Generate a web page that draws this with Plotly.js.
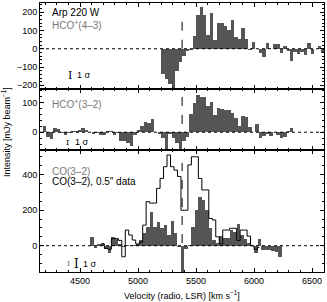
<!DOCTYPE html>
<html><head><meta charset="utf-8">
<script src="https://cdn.plot.ly/plotly-3.0.1.min.js"></script>
<style>html,body{margin:0;padding:0;background:#fff}</style>
</head><body><div id="chart" style="width:327px;height:302px"></div>
<script>
// ---- Data (channel centre velocities in km/s, intensities in mJy/beam) ----
const chanWidth = 30;
const vSys = 5380;

const hco43Vel = [5215,5245,5275,5305,5335,5365,5395,5425,5455,5485,5515,5545,5575,5605,5635,5665,5695,5725,5755,5785,5815,5845,5875,5905,5935,5965,5995,6025,6055,6085,6115,6145,6175,6205,6235,6265,6295,6325,6355,6385,6415,6445,6475,6505,6535,6565,6595];
const hco43Int = [-140,-165,-190,-215,-120,-75,-40,-15,-8,69,184,229,184,75,193,47,138,138,124,105,156,62,51,111,51,-7,38,0,-25,-47,29,0,24,24,-25,15,-11,-65,-16,-29,-16,-35,33,-29,-4,15,-25];

const hco32Vel = [4195,4225,4255,4285,4315,4345,4375,4405,4435,4465,4495,4525,4555,4585,4615,4645,4675,4705,4735,4765,4795,4825,4855,4885,4915,4945,4975,5005,5035,5065,5095,5125,5155,5185,5215,5245,5275,5305,5335,5365,5395,5425,5455,5485,5515,5545,5575,5605,5635,5665,5695,5725,5755,5785,5815,5845,5875,5905,5935,5965,5995,6025,6055,6085,6115,6145,6175,6205,6235,6265,6295,6325];
const hco32Int = [21,-15,-22,13,10,-3,-8,-3,4,3,8,14,6,2,-5,-3,-10,-10,5,5,-10,-3,-30,-30,-35,-45,-10,8,20,34,30,45,0,-5,-20,-57,-5,-20,-35,-57,-30,-15,62,98,126,118,118,87,103,58,81,78,75,75,64,49,21,55,53,19,0,27,-20,-12,-5,-12,0,-9,-20,-15,5,13];

const co32Vel = [4605,4635,4665,4695,4725,4755,4785,4815,4845,4875,4905,4935,4965,4995,5025,5055,5085,5115,5145,5175,5205,5235,5265,5295,5325,5355,5385,5415,5445,5475,5505,5535,5565,5595,5625,5655,5685,5715,5745,5775,5805,5835,5865,5895,5925,5955,5985,6015,6045,6075,6105,6135,6165,6195,6225];
const co32Int = [47,-15,10,17,-20,-43,47,36,10,-5,5,0,5,10,32,70,107,191,107,135,98,116,60,141,70,-10,-150,-19,5,107,201,276,257,201,98,32,15,54,45,41,88,80,122,60,40,15,0,-43,36,-24,-24,-26,-28,-34,-66];

const co05Vel = [4695,4725,4755,4785,4815,4845,4875,4905,4935,4965,4995,5025,5055,5085,5115,5145,5175,5205,5235,5265,5295,5325,5355,5385,5415,5445,5475,5505,5535,5565,5595,5625,5655,5685,5715,5745,5775,5805,5835,5865,5895,5925,5955,5985,6015,6045];
const co05Int = [10,-15,-20,40,40,30,-62,88,60,32,10,20,116,248,240,240,323,379,445,511,445,426,390,200,200,455,501,501,379,314,314,154,145,50,10,88,88,98,98,30,88,88,54,0,-20,-10];

const xTickVals = [4500,5000,5500,6000,6500];
const panelLabels = ["HCO<sup>+</sup>(4\u20133)", "HCO<sup>+</sup>(3\u20132)", "CO(3\u20132)", "CO(3\u20132), 0.5\u2033 data"];

// ---- Styling ----
const FONT = "Liberation Sans, Arial, sans-serif";
const SERIF = "DejaVu Serif, Liberation Serif, serif";
const barColor = "#555555";
const labelGray = "#777777";
const xRange = [4155, 6603];

const traces = [
  {type:"bar", x:hco43Vel, y:hco43Int, width:chanWidth, marker:{color:barColor, line:{width:0}}, xaxis:"x", yaxis:"y", hoverinfo:"skip"},
  {type:"bar", x:hco32Vel, y:hco32Int, width:chanWidth, marker:{color:barColor, line:{width:0}}, xaxis:"x2", yaxis:"y2", hoverinfo:"skip"},
  {type:"bar", x:co32Vel, y:co32Int, width:chanWidth, marker:{color:barColor, line:{width:0}}, xaxis:"x3", yaxis:"y3", hoverinfo:"skip"},
  {type:"scatter", mode:"lines", x:co05Vel, y:co05Int, line:{shape:"hvh", color:"#000", width:1}, xaxis:"x3", yaxis:"y3", hoverinfo:"skip"}
];

function xa(anchor, showLabels){
  const a = {range:xRange, anchor:anchor, showline:true, linecolor:"#000", linewidth:1, mirror:"allticks",
    ticks:"inside", ticklen:4, tickcolor:"#000", tickvals:xTickVals, showticklabels:showLabels,
    minor:{dtick:100, ticks:"inside", ticklen:2, tickcolor:"#000"},
    showgrid:false, zeroline:false, tickfont:{family:FONT,size:9,color:"#000"}};
  if (anchor !== "y3") a.matches = "x3";
  return a;
}
function ya(anchor, domain, range, dtick, minor){
  return {domain:domain, range:range, anchor:anchor, showline:true, linecolor:"#000", linewidth:1, mirror:"allticks",
    ticks:"inside", ticklen:4, tickcolor:"#000", dtick:dtick, tick0:0,
    minor:{dtick:minor, ticks:"inside", ticklen:2, tickcolor:"#000"},
    showgrid:false, zeroline:false, tickfont:{family:FONT,size:9,color:"#000"}};
}

const d3 = [0, 0.4535], d2 = [0.4535, 0.6803], d1 = [0.6803, 1];

const shapes = [];
[["y",[0,190]],["y2",[28,119]],["y3",[15,466]]].forEach(([yr,ext])=>{
  shapes.push({type:"line", xref:"paper", yref:yr, x0:0, x1:1, y0:0, y1:0, line:{color:"#000", width:1, dash:"dot"}});
  shapes.push({type:"line", xref:"x", yref:yr, x0:vSys, x1:vSys, y0:ext[0], y1:ext[1], line:{color:"#000", width:1, dash:"dash"}});
});

function note(x, y, text, color, size, family){
  return {xref:"paper", yref:"paper", x:x, y:y, xanchor:"left", yanchor:"middle", text:text, showarrow:false,
    font:{family:family||FONT, size:size||10, color:color||"#000"}};
}
const annotations = [
  note(0.035, 0.965, "Arp 220 W", "#000", 10),
  note(0.035, 0.920, panelLabels[0], labelGray, 10),
  note(0.035, 0.625, panelLabels[1], labelGray, 10),
  note(0.035, 0.375, panelLabels[2], labelGray, 10),
  note(0.035, 0.335, panelLabels[3], "#000", 10),
  note(0.090, 0.732, "I", "#000", 11, SERIF),
  note(0.122, 0.732, "1 \u03c3", "#000", 9),
  note(0.086, 0.483, "I", "#000", 8, SERIF),
  note(0.117, 0.483, "1 \u03c3", "#000", 9),
  note(0.088, 0.030, "I", labelGray, 8, SERIF),
  note(0.113, 0.030, "I", "#000", 12, SERIF),
  note(0.145, 0.030, "1 \u03c3", "#000", 9),
  {xref:"paper", yref:"paper", x:-0.12, y:0.52, xanchor:"center", yanchor:"middle", textangle:-90, text:"Intensity [mJy beam<sup>\u22121</sup>]", showarrow:false, font:{family:FONT,size:9,color:"#000"}},
  {xref:"paper", yref:"paper", x:0.5, y:-0.085, xanchor:"center", yanchor:"middle", text:"Velocity (radio, LSR) [km s<sup>\u22121</sup>]", showarrow:false, font:{family:FONT,size:9,color:"#000"}}
];

const layout = {
  width:327, height:302, margin:{l:40, r:3, t:3, b:30},
  paper_bgcolor:"#fff", plot_bgcolor:"#fff", showlegend:false, bargap:0,
  font:{family:FONT, size:9, color:"#000"},
  xaxis: xa("y", false), xaxis2: xa("y2", false), xaxis3: xa("y3", true),
  yaxis: ya("x", d1, [-220, 250], 100, 20),
  yaxis2: ya("x2", d2, [-60, 146], 100, 20),
  yaxis3: ya("x3", d3, [-148, 539], 200, 50),
  shapes:shapes, annotations:annotations
};

Plotly.newPlot("chart", traces, layout, {displayModeBar:false, staticPlot:true});
</script></body></html>
